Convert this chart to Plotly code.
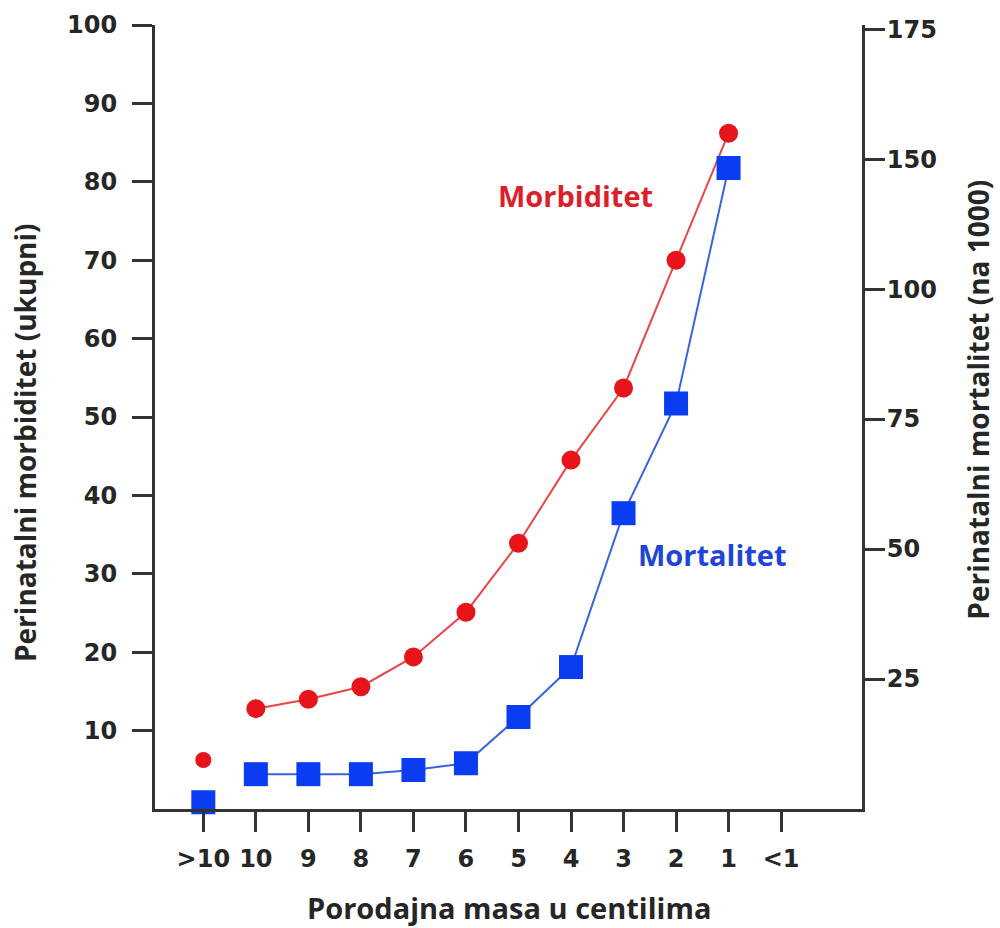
import plotly.graph_objects as go

categories = [">10", "10", "9", "8", "7", "6", "5", "4", "3", "2", "1", "<1"]
morbiditet = [6.25, 12.8, 14.0, 15.6, 19.4, 25.1, 33.9, 44.5, 53.7, 70.0, 86.2]
mortalitet = [1.3, 6.7, 6.7, 6.7, 7.5, 8.8, 17.7, 27.3, 56.9, 78.0, 123.3]
left_ticks = [10, 20, 30, 40, 50, 60, 70, 80, 90, 100]
right_tickvals = [25, 50, 75, 100, 125, 150]
right_ticktext = ["25", "50", "75", "100", "150", "175"]

RED_LINE = "#e8474a"
RED = "#e8141c"
BLUE_LINE = "#3a64dc"
BLUE = "#0a3cf2"
AX = "#333333"
TXT = "#262626"

fig = go.Figure()

# Morbidity (left axis)
fig.add_trace(go.Scatter(x=categories[:1], y=morbiditet[:1], mode="markers",
                         marker=dict(color=RED, size=16, symbol="circle"),
                         showlegend=False, yaxis="y", cliponaxis=False))
fig.add_trace(go.Scatter(x=categories[1:len(morbiditet)], y=morbiditet[1:], mode="lines+markers",
                         line=dict(color=RED_LINE, width=2),
                         marker=dict(color=RED, size=19, symbol="circle"),
                         showlegend=False, yaxis="y", cliponaxis=False))
# Mortality (right axis)
fig.add_trace(go.Scatter(x=categories[:1], y=mortalitet[:1], mode="markers",
                         marker=dict(color=BLUE, size=24, symbol="square"),
                         showlegend=False, yaxis="y2", cliponaxis=False))
fig.add_trace(go.Scatter(x=categories[1:len(mortalitet)], y=mortalitet[1:], mode="lines+markers",
                         line=dict(color=BLUE_LINE, width=2),
                         marker=dict(color=BLUE, size=24, symbol="square"),
                         showlegend=False, yaxis="y2", cliponaxis=False))

tickfont = dict(family="DejaVu Sans", size=24, color=TXT, weight="bold")
titlefont = dict(family="Open Sans", size=28, color=TXT, weight="bold")


def label(text, x, y, font, angle=0):
    return dict(text=text, x=x, y=y, xref="paper", yref="paper",
                xanchor="center", yanchor="middle", textangle=angle,
                showarrow=False, font=font, borderpad=0)


axis_common = dict(showgrid=False, zeroline=False, automargin=False,
                   showline=True, linecolor=AX, linewidth=3,
                   ticks="outside", ticklen=20, tickwidth=3, tickcolor=AX,
                   tickfont=tickfont, ticklabeloverflow="allow")

fig.update_layout(
    width=1000, height=928,
    margin=dict(l=155, r=138, t=25, b=119),
    paper_bgcolor="white", plot_bgcolor="white",
    xaxis=dict(type="category", categoryorder="array", categoryarray=categories,
               range=[-0.92, 12.54], ticklabelstandoff=6, **axis_common),
    yaxis=dict(range=[0, 100], tickvals=left_ticks, ticklabelstandoff=10, **axis_common),
    yaxis2=dict(range=[0, 150.8], overlaying="y", side="right",
                tickvals=right_tickvals, ticktext=right_ticktext,
                ticklabelstandoff=-3, **axis_common),
    annotations=[
        label("Morbiditet", 0.595, 0.783,
              dict(family="Open Sans", size=29, color="#dc1f2a", weight="bold")),
        label("Mortalitet", 0.788, 0.324,
              dict(family="Open Sans", size=29, color="#1f45d8", weight="bold")),
        label("Perinatalni morbiditet (ukupni)", -0.184, 0.468, titlefont, -90),
        label("Perinatalni mortalitet (na 1000)", 1.164, 0.522, titlefont, -90),
        label("Porodajna masa u centilima", 0.501, -0.125,
              dict(family="Open Sans", size=29, color=TXT, weight="bold")),
    ],
)

fig.write_html("out.html", config={"displayModeBar": False},
               post_script="document.body.style.margin='0';document.body.style.overflow='hidden';")
